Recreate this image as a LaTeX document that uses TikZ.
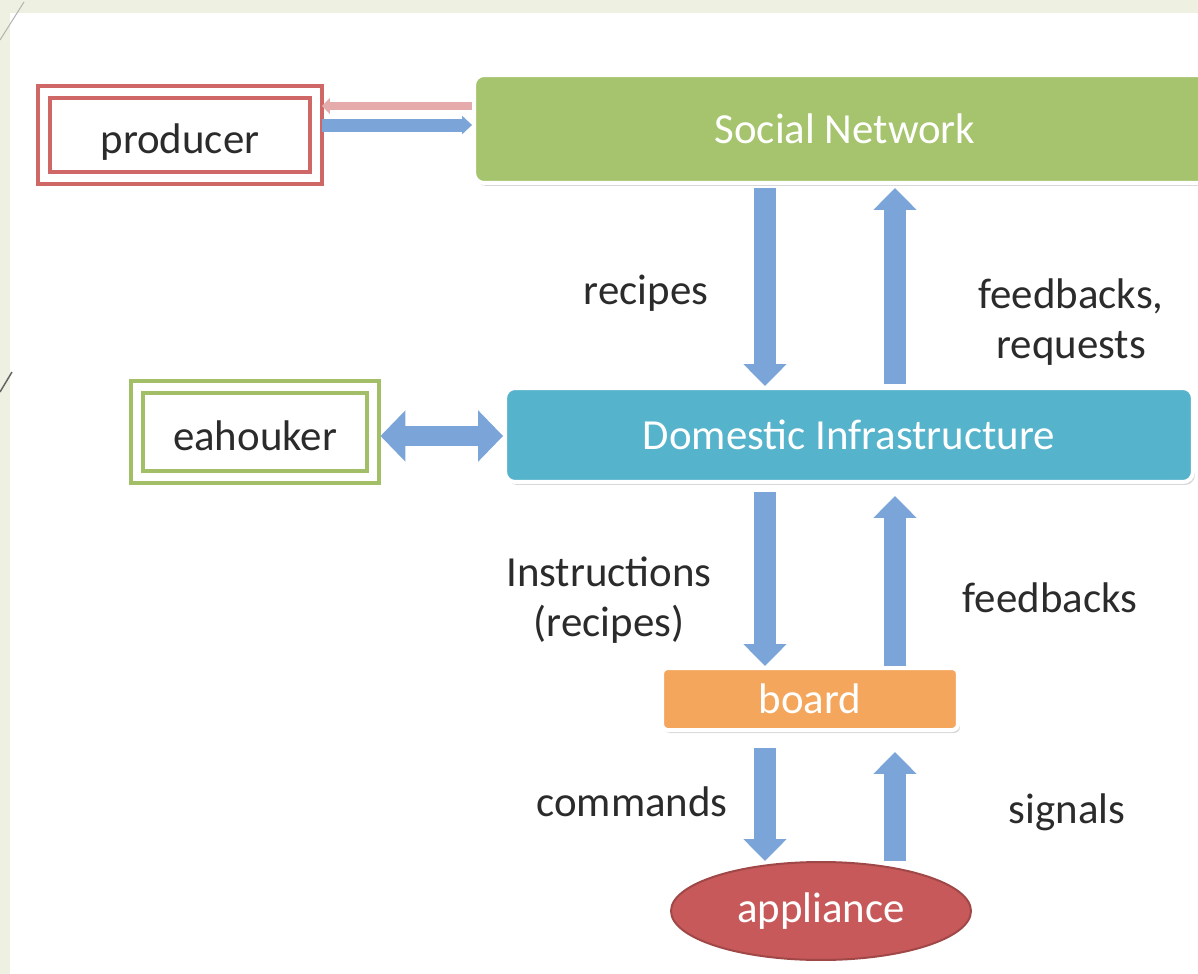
\documentclass[tikz,border=0pt]{standalone}
\usepackage{fontspec}
\setmainfont{Carlito}
\usetikzlibrary{positioning,arrows.meta,shapes.geometric,shadows}
\definecolor{slidebg}{HTML}{EEF1E2}
\definecolor{prodred}{HTML}{D06767}
\definecolor{keepgreen}{HTML}{A2BE66}
\definecolor{netgreen}{HTML}{A5C46D}
\definecolor{infrateal}{HTML}{55B3CB}
\definecolor{boardorange}{HTML}{F5A65D}
\definecolor{applred}{HTML}{C8595A}
\definecolor{flowblue}{HTML}{7BA5D9}
\definecolor{textink}{HTML}{2B2B2B}

\begin{document}
\begin{tikzpicture}[
  x=0.02cm, y=-0.02cm,
  font=\fontsize{24.4pt}{28.3pt}\selectfont,
  dbox/.style={draw, line width=0.08cm, double=white, double distance=0.16cm, text=textink,
    inner sep=0pt, text height=20.5pt, text depth=0pt},
  box/.style={rounded corners=0.2cm, draw=white, line width=0.08cm, text=white,
    drop shadow={shadow xshift=0.04cm, shadow yshift=-0.06cm, opacity=0.3}},
  blk/.style={line width=0.44cm, draw=flowblue, -{Triangle[length=0.44cm, width=0.84cm]}},
  lbl/.style={text=textink, align=center}
]
\useasboundingbox (0,0) rectangle (1198,974);
% slide background
\fill[slidebg] (0,0) rectangle (1198,974);
\fill[white] (10,13) rectangle (1198,974);
\draw[gray!60, line width=0.02cm] (0,40) -- (24,2);
\draw[gray!80!black, line width=0.03cm] (0,392) -- (12,372);

\node[dbox, draw=prodred, minimum width=5.44cm, minimum height=1.73cm] (prod) at (180,135) {producer};
\node[dbox, draw=keepgreen, minimum width=4.74cm, minimum height=1.8cm] (keep) at (255,432) {eahouker};
\node[box, fill=netgreen, minimum width=14.84cm, minimum height=2.16cm] (net) at (845,129) {Social Network};
\node[box, fill=infrateal, minimum width=13.76cm, minimum height=1.88cm] (infra) at (849,435) {Domestic Infrastructure};
\node[box, fill=boardorange, rounded corners=0.12cm, minimum width=5.92cm, minimum height=1.24cm] (board) at (810,699) {board};
\node[ellipse, draw=applred!80!black, fill=applred, line width=0.04cm, text=white,
  minimum width=6cm, minimum height=1.96cm] (appl) at (821,911) {appliance};

\coordinate (down) at (765,0);
\coordinate (up) at (895,0);
\coordinate (toP) at (0,106);
\coordinate (toN) at (0,125);
\coordinate (toK) at (0,436);

% producer <-> social network
\draw[white!45!prodred, line width=0.16cm, -{Triangle[length=0.16cm, width=0.32cm]}, shorten >=0.08cm]
  (net.west |- toP) -- (prod.east |- toP);
\draw[flowblue, line width=0.26cm, -{Triangle[length=0.2cm, width=0.36cm]}, shorten <=0.08cm]
  (prod.east |- toN) -- (net.west |- toN);
% eahouker <-> infrastructure
\draw[flowblue, line width=0.4cm, {Triangle[length=0.5cm, width=1cm]}-{Triangle[length=0.5cm, width=1cm]}, shorten <=0.1cm]
  (keep.east |- toK) -- (infra.west |- toK);

% vertical flows
\draw[blk, shorten <=0.06cm] (net.south -| down) -- (infra.north -| down);
\draw[blk, shorten <=0.04cm, shorten >=0.06cm] (infra.north -| up) -- (net.south -| up);
\draw[blk, shorten <=0.16cm] (infra.south -| down) -- (board.north -| down);
\draw[blk, shorten >=0.24cm] (board.north -| up) -- (infra.south -| up);
\draw[blk, shorten <=0.32cm] (board.south -| down) -- (appl.north -| down);
\draw[blk, shorten >=0.4cm] (appl.north -| up) -- (board.south -| up);

\node[lbl] (lrec) at (646,293) {recipes};
\node[lbl] (lfeed) at (1071,322) {feedbacks,\\requests};
\node[lbl] (linst) at (609,600) {Instructions\\(recipes)};
\node[lbl] (lfb) at (1050,598) {feedbacks};
\node[lbl] (lcmd) at (632,802) {commands};
\node[lbl] (lsig) at (1067,812) {signals};
\end{tikzpicture}
\end{document}
